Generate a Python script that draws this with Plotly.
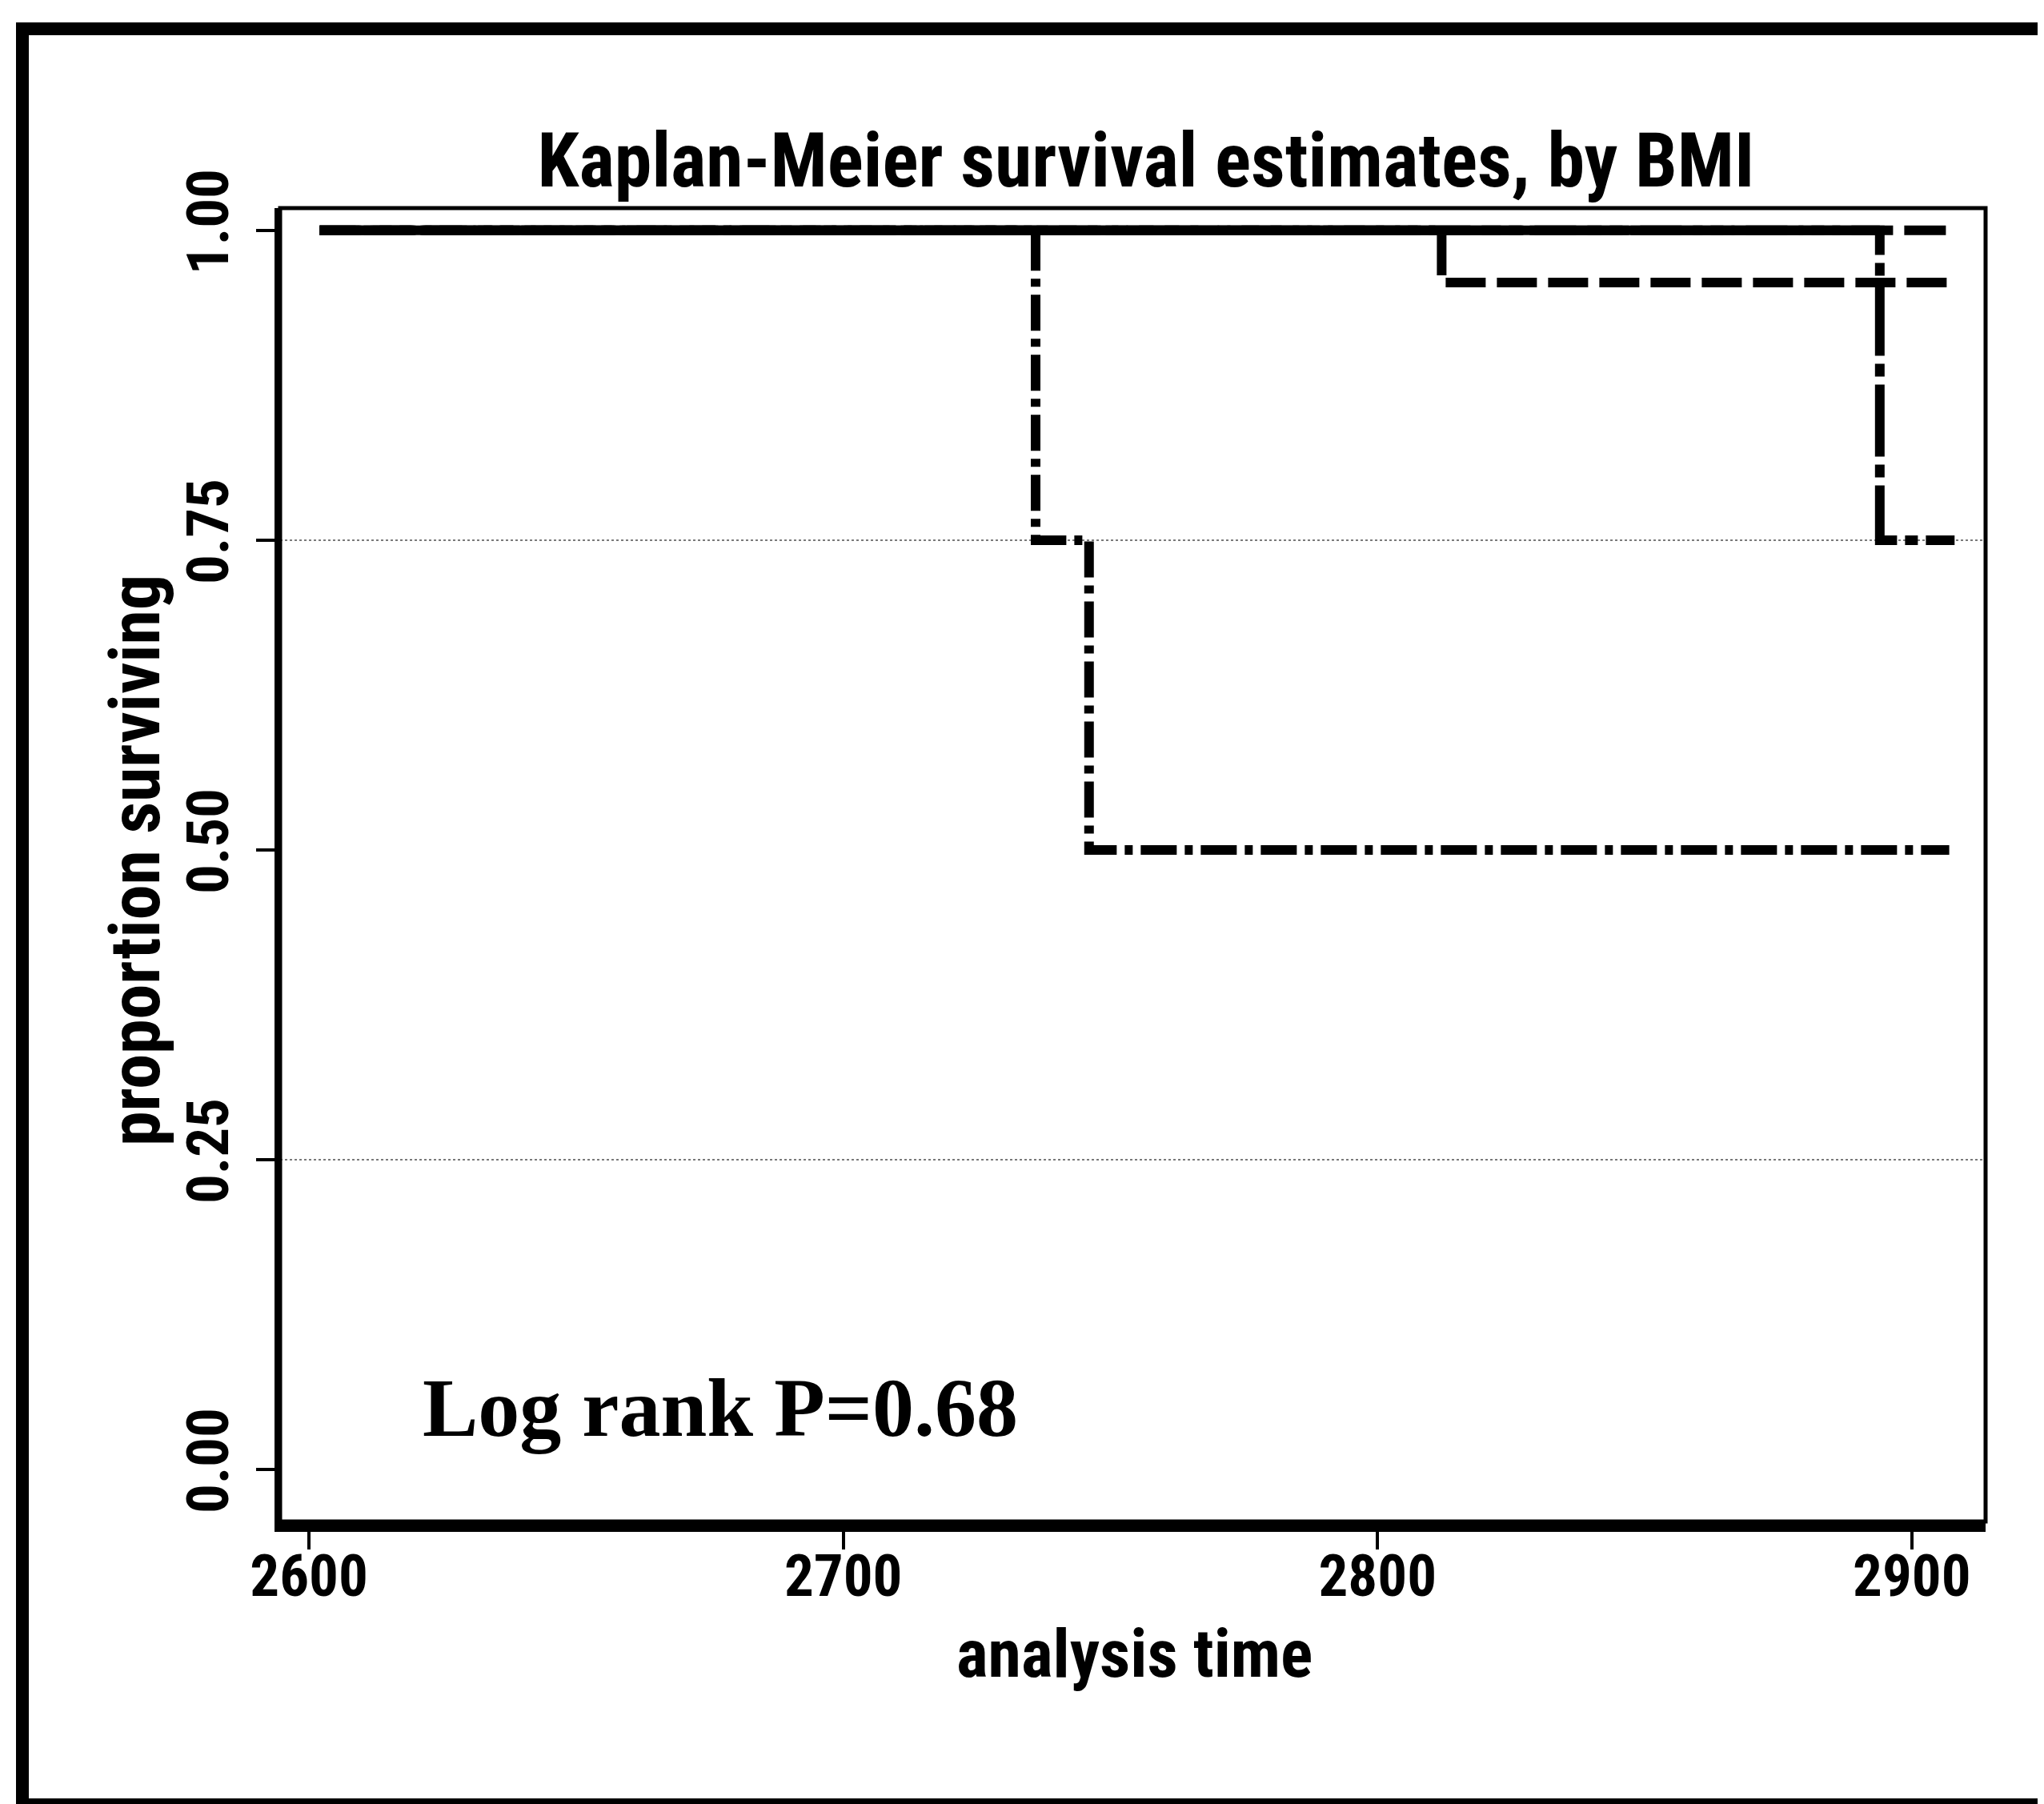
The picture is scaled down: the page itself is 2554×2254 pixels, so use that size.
import plotly.graph_objects as go

# ---- data ----
# step curves: time points and survival proportions
time_g0 = [2602, 2894]
surv_g0 = [1.0, 1.0]

time_g1 = [2602, 2736, 2746, 2907]
surv_g1 = [1.0, 0.75, 0.50, 0.50]

time_g2 = [2602, 2812, 2907]
surv_g2 = [1.0, 0.958, 0.958]

time_g3 = [2602, 2894, 2908]
surv_g3 = [1.0, 0.75, 0.75]

time_g4 = [2602, 2908]
surv_g4 = [1.0, 1.0]

x_tickvals = [2600, 2700, 2800, 2900]
x_ticktext = ["2600", "2700", "2800", "2900"]
y_tickvals = [0.0, 0.25, 0.50, 0.75, 1.0]
y_ticktext = ["0.00", "0.25", "0.50", "0.75", "1.00"]
grid_vals = [0.25, 0.75]

title_text = "Kaplan-Meier survival estimates, by BMI"
xlabel = "analysis time"
ylabel = "proportion surviving"
note_text = "Log rank P=0.68"

SANS = "Roboto Condensed, DejaVu Sans Condensed, sans-serif"
SERIF = "Liberation Serif, Times New Roman, serif"

W, H = 2554, 2254
PL, PR, PT, PB = 342, 2473, 252, 1893      # plot area in pixels
L, R, T, B = PL, W - PR, PT, H - PB
PW, PH = PR - PL, PB - PT

fig = go.Figure()

# invisible helper trace for the grid axis
fig.add_trace(go.Scatter(x=time_g4, y=surv_g4, yaxis="y2", mode="lines",
                         line=dict(width=0, color="rgba(0,0,0,0)"),
                         hoverinfo="skip", showlegend=False))

LW = 12
fig.add_trace(go.Scatter(x=time_g4, y=surv_g4, mode="lines", line_shape="hv",
                         line=dict(color="black", width=LW, dash="52px,14px"),
                         showlegend=False))
fig.add_trace(go.Scatter(x=time_g3, y=surv_g3, mode="lines", line_shape="hv",
                         line=dict(color="black", width=LW, dash="90px,10px,16px,10px"),
                         showlegend=False))
fig.add_trace(go.Scatter(x=time_g2, y=surv_g2, mode="lines", line_shape="hv",
                         line=dict(color="black", width=LW, dash="50px,14px"),
                         showlegend=False))
fig.add_trace(go.Scatter(x=time_g1, y=surv_g1, mode="lines", line_shape="hv",
                         line=dict(color="black", width=LW, dash="45px,10px,10px,10px"),
                         showlegend=False))
fig.add_trace(go.Scatter(x=time_g0, y=surv_g0, mode="lines", line_shape="hv",
                         line=dict(color="black", width=LW),
                         showlegend=False))

fig.add_annotation(x=2621, y=0.05, xref="x", yref="y", text=note_text,
                   showarrow=False, xanchor="left", yanchor="middle",
                   font=dict(family=SERIF, size=104, color="black", weight="bold"))

# axis titles
fig.add_annotation(x=(1409 - PL) / PW, y=(PB - 2058) / PH, xref="paper", yref="paper",
                   text=xlabel, showarrow=False, xanchor="center", yanchor="middle",
                   font=dict(family=SANS, size=84, color="black", weight="bold"))
fig.add_annotation(x=(160 - PL) / PW, y=(PB - 1067) / PH, xref="paper", yref="paper",
                   text=ylabel, showarrow=False, xanchor="center", yanchor="middle",
                   textangle=-90,
                   font=dict(family=SANS, size=88, color="black", weight="bold"))

# plot-region top/right border
fig.add_shape(type="rect", xref="paper", yref="paper", x0=0, x1=1, y0=0, y1=1,
              line=dict(color="black", width=5), layer="above")
# outer frame
fig.add_shape(type="rect", xref="paper", yref="paper",
              x0=(20 - PL) / PW, x1=(2549 - PL) / PW,
              y0=(PB - 2247) / PH, y1=(PB - 28) / PH,
              line=dict(color="black", width=16), layer="above")

fig.update_layout(
    width=W, height=H,
    margin=dict(l=L, r=R, t=T, b=B, pad=0),
    paper_bgcolor="white", plot_bgcolor="white",
    title=dict(text=title_text, xref="container", yref="container",
               x=1424 / W, y=1 - 192 / H, xanchor="center", yanchor="middle",
               font=dict(family=SANS, size=94, color="black", weight="bold")),
    xaxis=dict(range=[2594.6, 2913.8], tickvals=x_tickvals, ticktext=x_ticktext,
               showgrid=False, zeroline=False, showline=True, linecolor="black",
               linewidth=13, ticks="outside", ticklen=22, tickwidth=4,
               tickcolor="black", ticklabelstandoff=-30,
               tickfont=dict(family=SANS, size=73, color="black", weight="bold")),
    yaxis=dict(range=[-0.042, 1.018], tickvals=y_tickvals, ticktext=y_ticktext,
               showgrid=False, zeroline=False, showline=True, linecolor="black",
               linewidth=7, ticks="outside", ticklen=23, tickwidth=4,
               tickcolor="black", tickangle=-90, ticklabelstandoff=6,
               tickfont=dict(family=SANS, size=73, color="black", weight="bold")),
    yaxis2=dict(overlaying="y", matches="y", tickvals=grid_vals,
                showticklabels=False, ticks="", showline=False, zeroline=False,
                showgrid=True, gridcolor="#7a7a7a", gridwidth=2, griddash="dot"),
)

fig.write_html("out.html")
